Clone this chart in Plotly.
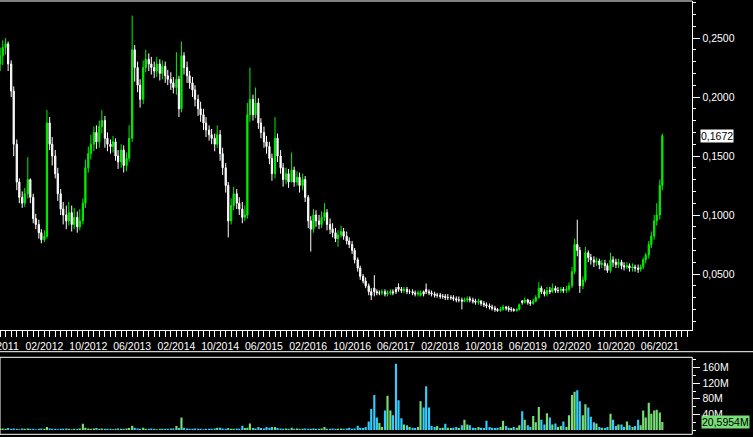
import pandas as pd
import plotly.graph_objects as go

W, H = 753, 437

# semi-monthly candles, June 2011 .. June 2021
dates = pd.date_range("2011-06-01", periods=242, freq="SMS")

# prices in thousandths (0.001)
open_mils = [
    228, 235, 242, 245, 228, 205, 160, 128, 115, 110,
    118, 130, 115, 97, 92, 85, 79, 82, 178, 160,
    150, 135, 118, 105, 100, 95, 102, 92, 98, 90,
    95, 110, 140, 152, 160, 170, 162, 175, 180, 165,
    160, 158, 162, 150, 145, 155, 142, 148, 165, 240,
    225, 210, 198, 225, 232, 228, 225, 222, 228, 220,
    226, 218, 215, 212, 208, 215, 190, 235, 225, 218,
    212, 206, 198, 190, 185, 178, 172, 168, 165, 160,
    168, 152, 140, 125, 95, 108, 118, 110, 105, 98,
    100, 185, 198, 185, 195, 178, 170, 162, 158, 148,
    135, 165, 150, 140, 130, 135, 128, 138, 128, 132,
    125, 130, 115, 95, 88, 100, 95, 92, 98, 102,
    92, 88, 85, 80, 83, 86, 82, 78, 75, 70,
    62, 55, 48, 44, 40, 35, 38, 35, 34, 34,
    35, 33, 34, 35, 37, 39, 37, 36, 37, 35,
    35, 34, 33, 32, 35, 37, 35, 34, 33, 32,
    32, 31, 31, 30, 30, 30, 29, 28, 28, 27,
    28, 29, 28, 27, 26, 27, 25, 24, 23, 22,
    21, 20, 19, 20, 22, 21, 20, 20, 19, 20,
    27, 26, 28, 26, 25, 27, 30, 38, 35, 33,
    36, 35, 38, 36, 36, 37, 36, 37, 40, 52,
    75, 70, 40, 45, 68, 64, 62, 60, 61, 58,
    59, 57, 53, 62, 60, 58, 60, 57, 56, 57,
    55, 56, 55, 54, 56, 62, 66, 75, 82, 95,
    100, 125,
]
high_mils = [
    242, 248, 250, 247, 231, 209, 164, 131, 120, 123,
    149, 131, 118, 101, 96, 88, 87, 189, 183, 166,
    155, 140, 122, 111, 108, 111, 108, 106, 103, 105,
    114, 147, 158, 168, 175, 176, 180, 189, 184, 170,
    164, 167, 165, 155, 160, 159, 153, 176, 269, 244,
    230, 215, 231, 240, 237, 234, 230, 234, 232, 231,
    230, 223, 221, 217, 238, 218, 247, 238, 230, 222,
    217, 210, 202, 196, 190, 183, 176, 173, 169, 176,
    172, 157, 144, 128, 114, 124, 122, 115, 111, 108,
    195, 225, 202, 208, 199, 182, 175, 167, 162, 152,
    183, 169, 155, 144, 140, 139, 153, 141, 137, 136,
    135, 133, 117, 99, 105, 104, 100, 103, 110, 105,
    97, 93, 89, 87, 91, 89, 86, 81, 78, 72,
    64, 57, 50, 47, 42, 38, 49, 37, 36, 37,
    37, 36, 37, 37, 39, 42, 39, 39, 39, 37,
    37, 36, 36, 36, 36, 42, 37, 36, 35, 34,
    34, 33, 33, 33, 32, 32, 31, 31, 30, 30,
    31, 31, 30, 29, 29, 28, 27, 26, 25, 24,
    23, 21, 22, 24, 23, 23, 22, 21, 21, 25,
    28, 30, 29, 28, 29, 32, 43, 40, 37, 39,
    39, 42, 40, 39, 39, 39, 40, 43, 56, 80,
    96, 73, 48, 73, 70, 67, 65, 64, 63, 62,
    62, 59, 68, 65, 63, 63, 62, 60, 60, 59,
    59, 58, 58, 58, 64, 68, 78, 86, 100, 110,
    130, 169,
]
low_mils = [
    222, 227, 236, 222, 200, 150, 121, 110, 106, 107,
    114, 110, 93, 88, 80, 76, 77, 80, 155, 142,
    131, 112, 100, 92, 88, 91, 86, 88, 85, 87,
    92, 106, 136, 147, 154, 156, 157, 169, 157, 154,
    152, 153, 146, 139, 140, 136, 137, 145, 162, 213,
    204, 191, 194, 221, 222, 219, 216, 217, 214, 215,
    212, 210, 206, 203, 202, 183, 187, 219, 212, 207,
    200, 192, 184, 179, 172, 166, 163, 160, 154, 157,
    146, 134, 119, 81, 92, 104, 105, 100, 93, 95,
    97, 179, 180, 182, 173, 165, 157, 152, 143, 129,
    131, 145, 135, 124, 126, 123, 131, 124, 125, 119,
    121, 111, 89, 69, 85, 90, 88, 89, 95, 87,
    84, 81, 77, 73, 81, 79, 75, 72, 67, 59,
    52, 45, 42, 38, 32, 28, 31, 32, 32, 32,
    31, 31, 32, 32, 33, 35, 34, 34, 33, 33,
    32, 31, 31, 31, 31, 33, 32, 31, 30, 30,
    29, 29, 28, 28, 28, 27, 26, 26, 20, 26,
    26, 26, 25, 24, 24, 23, 22, 21, 20, 19,
    18, 18, 18, 19, 19, 18, 18, 18, 18, 19,
    24, 25, 24, 23, 24, 26, 29, 33, 31, 31,
    33, 34, 34, 34, 34, 34, 34, 35, 38, 50,
    65, 34, 37, 43, 60, 58, 56, 57, 54, 55,
    53, 51, 51, 56, 55, 55, 54, 53, 54, 52,
    52, 52, 51, 52, 54, 59, 63, 72, 79, 91,
    96, 121,
]
close_mils = [
    235, 242, 245, 228, 205, 160, 128, 115, 110, 118,
    130, 115, 97, 92, 85, 79, 82, 178, 160, 150,
    135, 118, 105, 100, 95, 102, 92, 98, 90, 95,
    110, 140, 152, 160, 170, 162, 175, 180, 165, 160,
    158, 162, 150, 145, 155, 142, 148, 165, 240, 225,
    210, 198, 225, 232, 228, 225, 222, 228, 220, 226,
    218, 215, 212, 208, 215, 190, 235, 225, 218, 212,
    206, 198, 190, 185, 178, 172, 168, 165, 160, 168,
    152, 140, 125, 95, 108, 118, 110, 105, 98, 100,
    185, 198, 185, 195, 178, 170, 162, 158, 148, 135,
    165, 150, 140, 130, 135, 128, 138, 128, 132, 125,
    130, 115, 95, 88, 100, 95, 92, 98, 102, 92,
    88, 85, 80, 83, 86, 82, 78, 75, 70, 62,
    55, 48, 44, 40, 35, 32, 35, 34, 34, 35,
    33, 34, 35, 34, 35, 37, 36, 37, 35, 35,
    34, 33, 34, 34, 33, 35, 34, 33, 32, 32,
    31, 31, 30, 30, 30, 29, 28, 28, 27, 28,
    29, 28, 27, 26, 27, 25, 24, 23, 22, 21,
    20, 19, 20, 22, 21, 20, 20, 19, 20, 24,
    26, 28, 26, 25, 27, 30, 38, 35, 33, 36,
    35, 38, 36, 36, 37, 36, 37, 40, 52, 75,
    70, 40, 45, 68, 64, 62, 60, 61, 58, 59,
    57, 53, 62, 60, 58, 60, 57, 56, 57, 55,
    56, 55, 54, 56, 62, 66, 75, 82, 95, 100,
    125, 167.2,
]
# volume in millions
volume_m = [
    3, 4, 3, 5, 3, 4, 3, 2, 4, 3,
    4, 3, 3, 2, 3, 4, 3, 8, 4, 3,
    3, 2, 3, 3, 4, 3, 2, 3, 3, 4,
    16, 6, 4, 3, 4, 5, 3, 4, 3, 3,
    3, 2, 3, 4, 3, 3, 4, 5, 11, 6,
    4, 3, 6, 3, 3, 4, 3, 2, 3, 3,
    3, 3, 4, 4, 10, 5, 32, 6, 4, 3,
    3, 4, 3, 3, 2, 3, 3, 3, 4, 6,
    6, 4, 3, 5, 3, 3, 4, 3, 11, 5,
    6, 17, 5, 4, 8, 5, 4, 8, 6, 8,
    8, 5, 4, 3, 4, 3, 6, 3, 4, 3,
    3, 4, 3, 3, 4, 3, 3, 4, 8, 3,
    3, 4, 3, 3, 4, 3, 4, 6, 3, 4,
    11, 6, 5, 8, 22, 54, 90, 32, 18, 8,
    50, 88, 50, 38, 170, 76, 30, 14, 12, 8,
    6, 5, 8, 74, 58, 112, 58, 10, 8, 10,
    5, 6, 16, 6, 5, 6, 8, 5, 12, 26,
    14, 12, 6, 5, 8, 6, 5, 24, 8, 6,
    5, 6, 8, 24, 10, 6, 5, 8, 6, 12,
    48, 26, 12, 8, 36, 20, 59, 26, 14, 43,
    32, 14, 17, 8, 10, 22, 8, 38, 90, 98,
    102, 74, 38, 66, 58, 34, 20, 17, 8, 6,
    5, 8, 42, 26, 10, 14, 14, 8, 22, 12,
    8, 10, 26, 12, 50, 32, 70, 42, 50, 52,
    45, 20.5954,
]
vol_tick_vals = [40, 80, 120, 160]
vol_tick_text = ["40M", "80M", "120M", "160M"]

open_ = [v / 1000 for v in open_mils]
high = [v / 1000 for v in high_mils]
low = [v / 1000 for v in low_mils]
close = [v / 1000 for v in close_mils]

GREEN = "#00f000"
VOL_UP = "#77dd77"
VOL_DN = "#33ccff"
vol_colors = [VOL_UP if c >= o else VOL_DN for o, c in zip(open_, close)]

FONT = "Liberation Sans"
FS = 10.5

xr = 692.3 / W
main_top = 1 - 1 / H
main_bot = 1 - 330 / H
vol_top = 1 - 357.3 / H
vol_bot = 1 - 434.3 / H

fig = go.Figure()
fig.add_trace(go.Candlestick(
    x=dates, open=open_, high=high, low=low, close=close,
    increasing=dict(line=dict(color=GREEN, width=1), fillcolor=GREEN),
    decreasing=dict(line=dict(color="white", width=1), fillcolor="white"),
    whiskerwidth=0, showlegend=False, xaxis="x", yaxis="y",
))
fig.add_trace(go.Bar(
    x=dates, y=volume_m, marker=dict(color=vol_colors, line=dict(width=0)),
    showlegend=False, xaxis="x2", yaxis="y2",
))

fig.update_layout(
    width=W, height=H,
    margin=dict(l=0, r=0, t=0, b=0, autoexpand=False),
    paper_bgcolor="black", plot_bgcolor="black",
    font=dict(family=FONT, size=FS, color="white"),
    separators=",.",
    showlegend=False,
    bargap=0.15,
    hovermode=False,
    xaxis=dict(
        domain=[0, xr], anchor="y", type="date",
        range=["2011-05-31", "2021-11-28"],
        rangeslider=dict(visible=False),
        showline=True, linecolor="white", linewidth=1,
        ticks="outside", ticklen=6, tickcolor="white", tickwidth=1,
        dtick="M8", tick0="2011-06-01", tickformat="%m/%Y",
        ticklabeloverflow="allow",
        tickfont=dict(family=FONT, size=FS, color="white"),
        minor=dict(dtick="M1", tick0="2011-06-01", ticks="outside",
                   ticklen=6, tickcolor="white", tickwidth=1, showgrid=False),
        showgrid=False, zeroline=False,
    ),
    yaxis=dict(
        domain=[main_bot, main_top], anchor="x", side="right",
        range=[0.00254, 0.28136],
        showline=True, linecolor="white", linewidth=1,
        ticks="outside", ticklen=7, tickcolor="white", tickwidth=1,
        dtick=0.05, tick0=0, tickformat=".4f",
        tickfont=dict(family=FONT, size=FS, color="white"),
        minor=dict(dtick=0.01, tick0=0, ticks="outside", ticklen=3,
                   tickcolor="white", tickwidth=1, showgrid=False),
        showgrid=False, zeroline=False,
    ),
    xaxis2=dict(
        domain=[0, xr], anchor="y2", matches="x", type="date",
        showticklabels=False, ticks="", showgrid=False, zeroline=False,
        showline=False,
    ),
    yaxis2=dict(
        domain=[vol_bot, vol_top], anchor="x2", side="right",
        range=[-11, 186.4],
        showline=False,
        ticks="outside", ticklen=7, tickcolor="white", tickwidth=1,
        tickmode="array", tickvals=vol_tick_vals, ticktext=vol_tick_text,
        tickfont=dict(family=FONT, size=FS, color="white"),
        minor=dict(dtick=20, tick0=0, ticks="outside", ticklen=3,
                   tickcolor="white", tickwidth=1, showgrid=False),
        showgrid=False, zeroline=False,
    ),
)

shapes = [
    # top border of price panel
    dict(type="line", xref="x domain", yref="y domain", x0=0, x1=1, y0=1, y1=1,
         line=dict(color="white", width=1)),
    # separator across whole width
    dict(type="line", xref="paper", yref="paper", x0=0, x1=1,
         y0=1 - 351.7 / H, y1=1 - 351.7 / H, line=dict(color="white", width=1)),
    # volume panel frame
    dict(type="rect", xref="x2 domain", yref="y2 domain", x0=0, x1=1, y0=0, y1=1,
         line=dict(color="white", width=1), fillcolor="rgba(0,0,0,0)"),
]
fig.update_layout(shapes=shapes)

last_price = close[-1]
last_vol = volume_m[-1]
fig.add_annotation(
    x=700 / W, xref="paper", xanchor="left", y=last_price, yref="y",
    text=f"{last_price:.4f}".replace(".", ","), showarrow=False,
    bgcolor="white", font=dict(family=FONT, size=FS, color="black"),
    borderpad=0,
)
fig.add_annotation(
    x=700.5 / W, xref="paper", xanchor="left", y=last_vol, yref="y2",
    text=f"{last_vol:.4f}".replace(".", ",") + "M", showarrow=False,
    bgcolor=VOL_UP, font=dict(family=FONT, size=FS, color="black"),
    borderpad=0,
)

fig.write_html(
    "out.html",
    config={"displayModeBar": False, "staticPlot": True},
    post_script="document.body.style.margin='0';document.body.style.background='black';",
)
